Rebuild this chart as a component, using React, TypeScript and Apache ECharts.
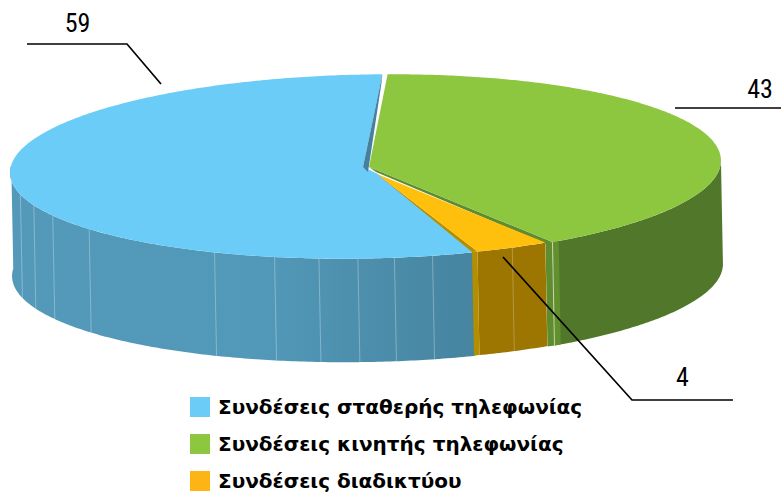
import React, { useEffect, useRef } from "react";
import * as echarts from "echarts";

const categories = ["Συνδέσεις σταθερής τηλεφωνίας", "Συνδέσεις κινητής τηλεφωνίας", "Συνδέσεις διαδικτύου"];
const values = [59, 43, 4];
const total = values.reduce((a, b) => a + b, 0);

const START_DEG = 162.62;
const TILT = (1.05 * Math.PI) / 180;
const DROP = [2, 103.5];

const slices = [
  { cx: 365.5, cy: 166.5, rx: 355.5, ry: 92, ax: 363, ay: 167, top: "#6BCDF7", legend: "#6BCDF7" },
  { cx: 371, cy: 166.5, rx: 350, ry: 92, ax: 369, ay: 167, top: "#8DC63F", legend: "#8DC63F" },
  { cx: 382, cy: 177, rx: 315, ry: 80, ax: 377, ay: 174, top: "#FFC00D", legend: "#FDB515" },
];
const labelStyle = [
  { tx: 77.5, ty: 23, line: [[27, 44], [127, 44], [161, 84]] },
  { tx: 760, ty: 89, line: [[675, 108], [781, 108]] },
  { tx: 682.5, ty: 377, line: [[503, 257], [632, 400], [733, 400]] },
];
const blueSeamDeg = [169.4, 175.6, 181.5, 187.8, 195.1, 205.4, 231.3, 241.9, 249.2, 256.4];
const LABEL_FONT = "400 26px 'Liberation Sans Narrow', 'Roboto Condensed', Roboto, sans-serif";

function angles(i: number) {
  let a = START_DEG;
  for (let k = 0; k < i; k++) a += (values[k] / total) * 360;
  a = a % 360;
  return [a, a + (values[i] / total) * 360];
}
function rim(s: any, deg: number) {
  const t = (deg * Math.PI) / 180;
  const x = s.rx * Math.sin(t);
  const y = -s.ry * Math.cos(t);
  return [s.cx + x * Math.cos(TILT) + y * Math.sin(TILT), s.cy - x * Math.sin(TILT) + y * Math.cos(TILT)];
}
function arc(s: any, a: number, b: number) {
  const n = Math.max(2, Math.ceil(Math.abs(b - a) * 1.5));
  const pts: number[][] = [];
  for (let i = 0; i <= n; i++) pts.push(rim(s, a + ((b - a) * i) / n));
  return pts;
}
const down = (p: number[]) => [p[0] + DROP[0], p[1] + DROP[1]];
function wall(s: any, a: number, b: number, fill: any) {
  const up = arc(s, a, b);
  return { type: "polygon", shape: { points: [...up, ...up.map(down).reverse()] }, style: { fill } };
}
function seam(s: any, deg: number, opacity = 0.3) {
  const p = rim(s, deg);
  const q = down(p);
  return { type: "line", shape: { x1: p[0], y1: p[1], x2: q[0], y2: q[1] }, style: { stroke: "#fff", lineWidth: 1, opacity } };
}
function decor(i: number) {
  const l = labelStyle[i];
  return [
    { type: "polyline", shape: { points: l.line }, style: { stroke: "#000", lineWidth: 1.7, fill: "none" } },
    { type: "text", style: { x: l.tx, y: l.ty, text: String(values[i]), font: LABEL_FONT, fill: "#000", textAlign: "center", textVerticalAlign: "middle" } },
  ];
}
function renderSlice(i: number) {
  const s = slices[i];
  const [a, b] = angles(i);
  const apexPts = i === 0 ? [[s.ax, s.ay], [s.ax + 14, s.ay + 6.5]] : [[s.ax, s.ay]];
  const top = { type: "polygon", shape: { points: [...apexPts, ...arc(s, a, b)] }, style: { fill: s.top } };
  const kids: any[] = [];
  if (i === 0) {
    const grad = new echarts.graphic.LinearGradient(0, 0, 1, 0, [
      { offset: 0, color: "#5499BA" },
      { offset: 0.55, color: "#5298B8" },
      { offset: 1, color: "#46849F" },
    ]);
    kids.push(wall(s, a, 275, grad));
    blueSeamDeg.forEach((d) => kids.push(seam(s, d)));
    kids.push(top);
    const e = rim(s, b);
    kids.push({ type: "polygon", shape: { points: [e, [s.ax, s.ay], [s.ax + 5, s.ay + 5], [e[0] - 1, e[1] + 9]] }, style: { fill: "#45819F" } });
  }
  if (i === 1) {
    kids.push(wall(s, 90, b, "#50772A"));
    kids.push(wall(s, b - 1.2, b, "#63902F"));
    const e = rim(s, b);
    const f = down(e);
    kids.push({ type: "polygon", shape: { points: [[e[0] - 7, e[1] + 1], e, f, [f[0] - 7, f[1] + 1]] }, style: { fill: "#5F8C2E" } });
    kids.push(seam(s, b, 0.6));
    kids.push({ type: "polygon", shape: { points: [[s.ax, s.ay], e, [e[0] - 6, e[1] + 2], [s.ax + 7, s.ay + 5]] }, style: { fill: "#5F8C2E" } });
    kids.push(top);
  }
  if (i === 2) {
    kids.push(wall(s, a, b, "#9C7600"));
    const e = rim(s, b);
    const f = down(e);
    kids.push({ type: "polygon", shape: { points: [[e[0] - 5.5, e[1] + 0.5], e, f, [f[0] - 5.5, f[1] + 0.5]] }, style: { fill: "#B58E00" } });
    kids.push(seam(s, (a + b) / 2, 0.25));
    kids.push({ type: "polygon", shape: { points: [[s.ax, s.ay], e, [e[0] - 5.5, e[1] + 0.5]] }, style: { fill: "#B58E00" } });
    kids.push(top);
  }
  return { type: "group", children: [...kids, ...decor(i)] };
}

export default function App() {
  const ref = useRef<HTMLDivElement>(null);
  useEffect(() => {
    const chart = echarts.init(ref.current!, undefined, { renderer: "svg" });
    chart.setOption({
      animation: false,
      legend: {
        orient: "vertical",
        left: 190,
        top: 397,
        padding: 0,
        itemWidth: 20,
        itemHeight: 20,
        itemGap: 17,
        icon: "rect",
        selectedMode: false,
        data: categories.map((name, i) => ({ name, itemStyle: { color: slices[i].legend } })),
        textStyle: { fontFamily: "'DejaVu Sans', sans-serif", fontWeight: "bold", fontSize: 20, color: "#000", padding: [0, 0, 0, 3] },
      },
      series: categories.map((name, i) => ({
        type: "custom",
        name,
        coordinateSystem: "none",
        silent: true,
        itemStyle: { color: slices[i].legend },
        data: [[values[i]]],
        renderItem: () => renderSlice(i),
      })),
    });
    return () => chart.dispose();
  }, []);
  return <div ref={ref} style={{ position: "absolute", left: 0, top: 0, width: 781, height: 492 }} />;
}
